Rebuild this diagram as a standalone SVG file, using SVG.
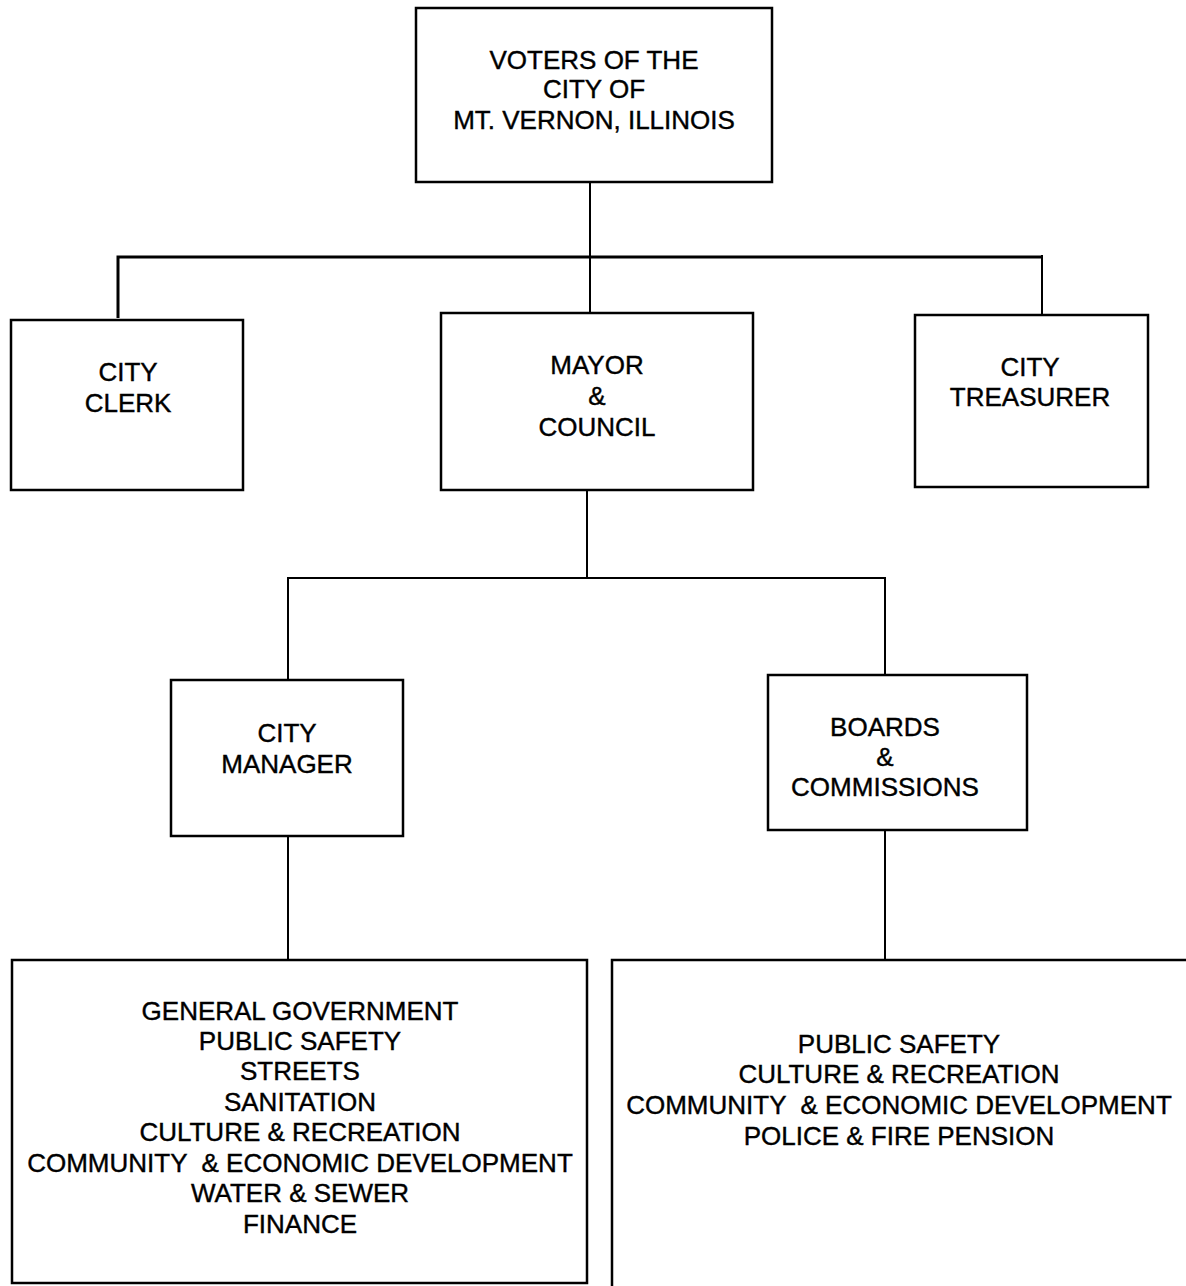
<svg xmlns="http://www.w3.org/2000/svg" width="1186" height="1286" viewBox="0 0 1186 1286">
<style>
.box{fill:#fff;stroke:#000;stroke-width:2.5}
.ln{fill:none;stroke:#000;stroke-width:2}
.thick{stroke-width:3}
text{font-family:"Liberation Sans",Arial,sans-serif;font-size:26px;fill:#000;stroke:#000;stroke-width:0.4;text-anchor:middle;white-space:pre}
</style>
<rect width="1186" height="1286" fill="#fff"/>
<g id="connectors">
<path class="ln" d="M590 182V313"/>
<path class="ln thick" d="M118 318V257H1042"/>
<path class="ln" d="M1042 255V315"/>
<path class="ln" d="M587 490V578"/>
<path class="ln" d="M288 680V578H885V675"/>
<path class="ln" d="M288 836V960"/>
<path class="ln" d="M885 830V960"/>
</g>
<g id="voters">
<rect class="box" x="416" y="8" width="356" height="174"/>
<text x="594" y="69">VOTERS OF THE</text>
<text x="594" y="98">CITY OF</text>
<text x="594" y="129">MT. VERNON, ILLINOIS</text>
</g>
<g id="clerk">
<rect class="box" x="11" y="320" width="232" height="170"/>
<text x="128" y="381">CITY</text>
<text x="128" y="412">CLERK</text>
</g>
<g id="mayor">
<rect class="box" x="441" y="313" width="312" height="177"/>
<text x="597" y="374">MAYOR</text>
<text x="597" y="405">&amp;</text>
<text x="597" y="436">COUNCIL</text>
</g>
<g id="treasurer">
<rect class="box" x="915" y="315" width="233" height="172"/>
<text x="1030" y="376">CITY</text>
<text x="1030" y="406">TREASURER</text>
</g>
<g id="manager">
<rect class="box" x="171" y="680" width="232" height="156"/>
<text x="287" y="742">CITY</text>
<text x="287" y="773">MANAGER</text>
</g>
<g id="boards">
<rect class="box" x="768" y="675" width="259" height="155"/>
<text x="885" y="736">BOARDS</text>
<text x="885" y="766">&amp;</text>
<text x="885" y="796">COMMISSIONS</text>
</g>
<g id="manager-depts">
<rect class="box" x="12" y="960" width="575" height="323"/>
<text x="300" y="1020">GENERAL GOVERNMENT</text>
<text x="300" y="1050">PUBLIC SAFETY</text>
<text x="300" y="1080">STREETS</text>
<text x="300" y="1111">SANITATION</text>
<text x="300" y="1141">CULTURE &amp; RECREATION</text>
<text x="300" y="1172">COMMUNITY  &amp; ECONOMIC DEVELOPMENT</text>
<text x="300" y="1202">WATER &amp; SEWER</text>
<text x="300" y="1233">FINANCE</text>
</g>
<g id="boards-depts">
<path class="box" d="M612 1290V960H1190"/>
<text x="899" y="1053">PUBLIC SAFETY</text>
<text x="899" y="1083">CULTURE &amp; RECREATION</text>
<text x="899" y="1114">COMMUNITY  &amp; ECONOMIC DEVELOPMENT</text>
<text x="899" y="1145">POLICE &amp; FIRE PENSION</text>
</g>
</svg>
